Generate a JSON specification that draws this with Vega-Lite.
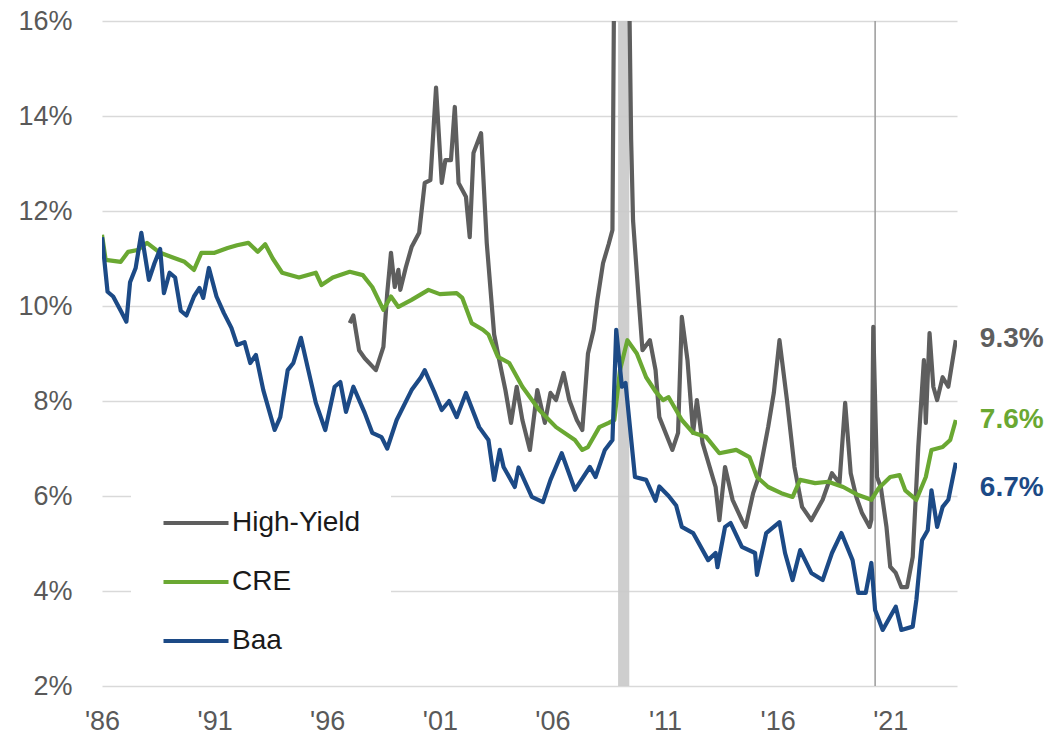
{
  "$schema": "https://vega.github.io/schema/vega-lite/v6.json",
  "width": 855,
  "height": 665,
  "autosize": {"type": "none"},
  "padding": {"left": 102, "top": 21, "right": 96, "bottom": 48},
  "background": "white",
  "config": {"view": {"stroke": null}, "font": "Liberation Sans"},
  "datasets": {
    "rec": [{"start": "2008-12-01", "end": "2009-06-01"}],
    "covid": [{"d": "2020-05-01"}],
    "ends": [
      {"series": "High-Yield", "d": "2023-12-01", "v": 9.3, "label": "9.3%"},
      {"series": "CRE", "d": "2023-12-01", "v": 7.6, "label": "7.6%"},
      {"series": "Baa", "d": "2023-12-01", "v": 6.7, "label": "6.7%"}
    ],
    "yields": [
      {"series": "High-Yield", "d": "1997-01-01", "v": 9.64},
      {"series": "High-Yield", "d": "1997-03-01", "v": 9.8},
      {"series": "High-Yield", "d": "1997-06-01", "v": 9.07},
      {"series": "High-Yield", "d": "1997-09-01", "v": 8.9},
      {"series": "High-Yield", "d": "1998-03-01", "v": 8.65},
      {"series": "High-Yield", "d": "1998-07-01", "v": 9.14},
      {"series": "High-Yield", "d": "1998-09-01", "v": 10.27},
      {"series": "High-Yield", "d": "1998-11-01", "v": 11.12},
      {"series": "High-Yield", "d": "1999-01-01", "v": 10.4},
      {"series": "High-Yield", "d": "1999-03-01", "v": 10.76},
      {"series": "High-Yield", "d": "1999-04-01", "v": 10.34},
      {"series": "High-Yield", "d": "1999-07-01", "v": 10.82},
      {"series": "High-Yield", "d": "1999-10-01", "v": 11.24},
      {"series": "High-Yield", "d": "2000-02-01", "v": 11.54},
      {"series": "High-Yield", "d": "2000-05-01", "v": 12.59},
      {"series": "High-Yield", "d": "2000-08-01", "v": 12.65},
      {"series": "High-Yield", "d": "2000-11-01", "v": 14.6},
      {"series": "High-Yield", "d": "2001-02-01", "v": 12.59},
      {"series": "High-Yield", "d": "2001-04-01", "v": 13.07},
      {"series": "High-Yield", "d": "2001-07-01", "v": 13.07},
      {"series": "High-Yield", "d": "2001-09-01", "v": 14.19},
      {"series": "High-Yield", "d": "2001-11-01", "v": 12.59},
      {"series": "High-Yield", "d": "2002-03-01", "v": 12.3},
      {"series": "High-Yield", "d": "2002-05-01", "v": 11.45},
      {"series": "High-Yield", "d": "2002-07-01", "v": 13.22},
      {"series": "High-Yield", "d": "2002-11-01", "v": 13.64},
      {"series": "High-Yield", "d": "2003-02-01", "v": 11.33},
      {"series": "High-Yield", "d": "2003-06-01", "v": 9.4},
      {"series": "High-Yield", "d": "2003-09-01", "v": 8.8},
      {"series": "High-Yield", "d": "2003-12-01", "v": 8.23},
      {"series": "High-Yield", "d": "2004-03-01", "v": 7.54},
      {"series": "High-Yield", "d": "2004-06-01", "v": 8.3},
      {"series": "High-Yield", "d": "2004-09-01", "v": 7.6},
      {"series": "High-Yield", "d": "2005-01-01", "v": 6.97},
      {"series": "High-Yield", "d": "2005-05-01", "v": 8.23},
      {"series": "High-Yield", "d": "2005-09-01", "v": 7.54},
      {"series": "High-Yield", "d": "2005-12-01", "v": 8.17},
      {"series": "High-Yield", "d": "2006-03-01", "v": 8.02},
      {"series": "High-Yield", "d": "2006-07-01", "v": 8.59},
      {"series": "High-Yield", "d": "2006-10-01", "v": 8.02},
      {"series": "High-Yield", "d": "2007-02-01", "v": 7.6},
      {"series": "High-Yield", "d": "2007-05-01", "v": 7.39},
      {"series": "High-Yield", "d": "2007-08-01", "v": 9.0},
      {"series": "High-Yield", "d": "2007-11-01", "v": 9.5},
      {"series": "High-Yield", "d": "2008-01-01", "v": 10.13},
      {"series": "High-Yield", "d": "2008-04-01", "v": 10.9},
      {"series": "High-Yield", "d": "2008-07-01", "v": 11.3},
      {"series": "High-Yield", "d": "2008-09-01", "v": 11.6},
      {"series": "High-Yield", "d": "2008-10-01", "v": 17.5},
      {"series": "High-Yield", "d": "2008-12-01", "v": 22.0},
      {"series": "High-Yield", "d": "2009-03-01", "v": 20.0},
      {"series": "High-Yield", "d": "2009-06-01", "v": 16.5},
      {"series": "High-Yield", "d": "2009-07-01", "v": 13.5},
      {"series": "High-Yield", "d": "2009-08-01", "v": 11.8},
      {"series": "High-Yield", "d": "2009-11-01", "v": 10.13},
      {"series": "High-Yield", "d": "2010-01-01", "v": 9.07},
      {"series": "High-Yield", "d": "2010-05-01", "v": 9.28},
      {"series": "High-Yield", "d": "2010-08-01", "v": 8.65},
      {"series": "High-Yield", "d": "2010-10-01", "v": 7.66},
      {"series": "High-Yield", "d": "2011-05-01", "v": 6.97},
      {"series": "High-Yield", "d": "2011-08-01", "v": 7.33},
      {"series": "High-Yield", "d": "2011-10-01", "v": 9.77},
      {"series": "High-Yield", "d": "2012-01-01", "v": 8.86},
      {"series": "High-Yield", "d": "2012-04-01", "v": 7.33},
      {"series": "High-Yield", "d": "2012-06-01", "v": 8.02},
      {"series": "High-Yield", "d": "2012-09-01", "v": 7.12},
      {"series": "High-Yield", "d": "2013-04-01", "v": 6.19},
      {"series": "High-Yield", "d": "2013-06-01", "v": 5.49},
      {"series": "High-Yield", "d": "2013-09-01", "v": 6.61},
      {"series": "High-Yield", "d": "2014-01-01", "v": 5.92},
      {"series": "High-Yield", "d": "2014-06-01", "v": 5.49},
      {"series": "High-Yield", "d": "2014-08-01", "v": 5.35},
      {"series": "High-Yield", "d": "2014-12-01", "v": 6.06},
      {"series": "High-Yield", "d": "2015-03-01", "v": 6.4},
      {"series": "High-Yield", "d": "2015-08-01", "v": 7.45},
      {"series": "High-Yield", "d": "2015-11-01", "v": 8.17},
      {"series": "High-Yield", "d": "2016-02-01", "v": 9.28},
      {"series": "High-Yield", "d": "2016-06-01", "v": 8.02},
      {"series": "High-Yield", "d": "2016-10-01", "v": 6.61},
      {"series": "High-Yield", "d": "2017-02-01", "v": 5.77},
      {"series": "High-Yield", "d": "2017-07-01", "v": 5.49},
      {"series": "High-Yield", "d": "2018-01-01", "v": 5.92},
      {"series": "High-Yield", "d": "2018-06-01", "v": 6.48},
      {"series": "High-Yield", "d": "2018-10-01", "v": 6.27},
      {"series": "High-Yield", "d": "2019-01-01", "v": 7.96},
      {"series": "High-Yield", "d": "2019-04-01", "v": 6.48},
      {"series": "High-Yield", "d": "2019-07-01", "v": 5.98},
      {"series": "High-Yield", "d": "2019-10-01", "v": 5.64},
      {"series": "High-Yield", "d": "2020-02-01", "v": 5.35},
      {"series": "High-Yield", "d": "2020-03-01", "v": 5.5},
      {"series": "High-Yield", "d": "2020-04-01", "v": 9.56},
      {"series": "High-Yield", "d": "2020-06-01", "v": 6.4},
      {"series": "High-Yield", "d": "2020-08-01", "v": 6.19},
      {"series": "High-Yield", "d": "2020-11-01", "v": 5.35},
      {"series": "High-Yield", "d": "2021-01-01", "v": 4.51},
      {"series": "High-Yield", "d": "2021-04-01", "v": 4.38},
      {"series": "High-Yield", "d": "2021-07-01", "v": 4.08},
      {"series": "High-Yield", "d": "2021-10-01", "v": 4.08},
      {"series": "High-Yield", "d": "2022-01-01", "v": 4.72},
      {"series": "High-Yield", "d": "2022-04-01", "v": 7.03},
      {"series": "High-Yield", "d": "2022-07-01", "v": 8.86},
      {"series": "High-Yield", "d": "2022-08-01", "v": 7.54},
      {"series": "High-Yield", "d": "2022-10-01", "v": 9.43},
      {"series": "High-Yield", "d": "2022-12-01", "v": 8.3},
      {"series": "High-Yield", "d": "2023-02-01", "v": 8.02},
      {"series": "High-Yield", "d": "2023-05-01", "v": 8.5},
      {"series": "High-Yield", "d": "2023-08-01", "v": 8.3},
      {"series": "High-Yield", "d": "2023-12-01", "v": 9.28},

      {"series": "CRE", "d": "1986-01-01", "v": 11.5},
      {"series": "CRE", "d": "1986-03-01", "v": 10.97},
      {"series": "CRE", "d": "1986-11-01", "v": 10.93},
      {"series": "CRE", "d": "1987-03-01", "v": 11.14},
      {"series": "CRE", "d": "1987-08-01", "v": 11.18},
      {"series": "CRE", "d": "1988-01-01", "v": 11.33},
      {"series": "CRE", "d": "1988-08-01", "v": 11.12},
      {"series": "CRE", "d": "1989-02-01", "v": 11.03},
      {"series": "CRE", "d": "1989-09-01", "v": 10.93},
      {"series": "CRE", "d": "1990-02-01", "v": 10.76},
      {"series": "CRE", "d": "1990-06-01", "v": 11.12},
      {"series": "CRE", "d": "1991-01-01", "v": 11.12},
      {"series": "CRE", "d": "1991-08-01", "v": 11.22},
      {"series": "CRE", "d": "1992-01-01", "v": 11.28},
      {"series": "CRE", "d": "1992-07-01", "v": 11.33},
      {"series": "CRE", "d": "1992-12-01", "v": 11.14},
      {"series": "CRE", "d": "1993-04-01", "v": 11.3},
      {"series": "CRE", "d": "1993-08-01", "v": 11.0},
      {"series": "CRE", "d": "1994-01-01", "v": 10.7},
      {"series": "CRE", "d": "1994-10-01", "v": 10.6},
      {"series": "CRE", "d": "1995-07-01", "v": 10.7},
      {"series": "CRE", "d": "1995-10-01", "v": 10.44},
      {"series": "CRE", "d": "1996-04-01", "v": 10.6},
      {"series": "CRE", "d": "1997-01-01", "v": 10.72},
      {"series": "CRE", "d": "1997-08-01", "v": 10.65},
      {"series": "CRE", "d": "1998-01-01", "v": 10.4},
      {"series": "CRE", "d": "1998-07-01", "v": 9.92},
      {"series": "CRE", "d": "1998-11-01", "v": 10.2},
      {"series": "CRE", "d": "1999-03-01", "v": 9.98},
      {"series": "CRE", "d": "1999-10-01", "v": 10.13},
      {"series": "CRE", "d": "2000-07-01", "v": 10.34},
      {"series": "CRE", "d": "2001-01-01", "v": 10.25},
      {"series": "CRE", "d": "2001-10-01", "v": 10.27},
      {"series": "CRE", "d": "2002-01-01", "v": 10.17},
      {"series": "CRE", "d": "2002-06-01", "v": 9.64},
      {"series": "CRE", "d": "2002-12-01", "v": 9.5},
      {"series": "CRE", "d": "2003-03-01", "v": 9.4},
      {"series": "CRE", "d": "2003-08-01", "v": 8.93},
      {"series": "CRE", "d": "2004-02-01", "v": 8.8},
      {"series": "CRE", "d": "2004-09-01", "v": 8.3},
      {"series": "CRE", "d": "2005-06-01", "v": 7.81},
      {"series": "CRE", "d": "2006-03-01", "v": 7.45},
      {"series": "CRE", "d": "2007-01-01", "v": 7.18},
      {"series": "CRE", "d": "2007-05-01", "v": 6.97},
      {"series": "CRE", "d": "2007-08-01", "v": 7.03},
      {"series": "CRE", "d": "2008-02-01", "v": 7.45},
      {"series": "CRE", "d": "2008-07-01", "v": 7.54},
      {"series": "CRE", "d": "2008-10-01", "v": 7.6},
      {"series": "CRE", "d": "2009-01-01", "v": 8.65},
      {"series": "CRE", "d": "2009-05-01", "v": 9.28},
      {"series": "CRE", "d": "2009-10-01", "v": 9.0},
      {"series": "CRE", "d": "2010-03-01", "v": 8.5},
      {"series": "CRE", "d": "2010-08-01", "v": 8.2},
      {"series": "CRE", "d": "2010-12-01", "v": 8.02},
      {"series": "CRE", "d": "2011-03-01", "v": 8.08},
      {"series": "CRE", "d": "2011-10-01", "v": 7.6},
      {"series": "CRE", "d": "2012-04-01", "v": 7.33},
      {"series": "CRE", "d": "2012-11-01", "v": 7.24},
      {"series": "CRE", "d": "2013-06-01", "v": 6.9},
      {"series": "CRE", "d": "2014-03-01", "v": 6.97},
      {"series": "CRE", "d": "2014-10-01", "v": 6.82},
      {"series": "CRE", "d": "2015-02-01", "v": 6.4},
      {"series": "CRE", "d": "2015-08-01", "v": 6.19},
      {"series": "CRE", "d": "2016-03-01", "v": 6.06},
      {"series": "CRE", "d": "2016-09-01", "v": 5.98},
      {"series": "CRE", "d": "2017-01-01", "v": 6.34},
      {"series": "CRE", "d": "2017-09-01", "v": 6.27},
      {"series": "CRE", "d": "2018-04-01", "v": 6.3},
      {"series": "CRE", "d": "2018-12-01", "v": 6.19},
      {"series": "CRE", "d": "2019-08-01", "v": 6.02},
      {"series": "CRE", "d": "2020-03-01", "v": 5.92},
      {"series": "CRE", "d": "2020-07-01", "v": 6.17},
      {"series": "CRE", "d": "2021-01-01", "v": 6.4},
      {"series": "CRE", "d": "2021-06-01", "v": 6.44},
      {"series": "CRE", "d": "2021-09-01", "v": 6.12},
      {"series": "CRE", "d": "2022-03-01", "v": 5.92},
      {"series": "CRE", "d": "2022-08-01", "v": 6.4},
      {"series": "CRE", "d": "2022-11-01", "v": 6.97},
      {"series": "CRE", "d": "2023-05-01", "v": 7.03},
      {"series": "CRE", "d": "2023-09-01", "v": 7.18},
      {"series": "CRE", "d": "2023-12-01", "v": 7.6},

      {"series": "Baa", "d": "1986-01-01", "v": 11.45},
      {"series": "Baa", "d": "1986-04-01", "v": 10.3},
      {"series": "Baa", "d": "1986-07-01", "v": 10.2},
      {"series": "Baa", "d": "1986-11-01", "v": 9.9},
      {"series": "Baa", "d": "1987-02-01", "v": 9.67},
      {"series": "Baa", "d": "1987-04-01", "v": 10.5},
      {"series": "Baa", "d": "1987-07-01", "v": 10.8},
      {"series": "Baa", "d": "1987-10-01", "v": 11.54},
      {"series": "Baa", "d": "1988-02-01", "v": 10.55},
      {"series": "Baa", "d": "1988-05-01", "v": 10.9},
      {"series": "Baa", "d": "1988-08-01", "v": 11.2},
      {"series": "Baa", "d": "1988-10-01", "v": 10.27},
      {"series": "Baa", "d": "1989-01-01", "v": 10.7},
      {"series": "Baa", "d": "1989-04-01", "v": 10.6},
      {"series": "Baa", "d": "1989-07-01", "v": 9.9},
      {"series": "Baa", "d": "1989-10-01", "v": 9.8},
      {"series": "Baa", "d": "1990-02-01", "v": 10.2},
      {"series": "Baa", "d": "1990-05-01", "v": 10.38},
      {"series": "Baa", "d": "1990-07-01", "v": 10.17},
      {"series": "Baa", "d": "1990-10-01", "v": 10.8},
      {"series": "Baa", "d": "1991-02-01", "v": 10.2},
      {"series": "Baa", "d": "1991-06-01", "v": 9.85},
      {"series": "Baa", "d": "1991-10-01", "v": 9.54},
      {"series": "Baa", "d": "1992-01-01", "v": 9.18},
      {"series": "Baa", "d": "1992-05-01", "v": 9.24},
      {"series": "Baa", "d": "1992-08-01", "v": 8.8},
      {"series": "Baa", "d": "1992-11-01", "v": 8.97},
      {"series": "Baa", "d": "1993-03-01", "v": 8.23},
      {"series": "Baa", "d": "1993-09-01", "v": 7.39},
      {"series": "Baa", "d": "1993-12-01", "v": 7.66},
      {"series": "Baa", "d": "1994-04-01", "v": 8.65},
      {"series": "Baa", "d": "1994-07-01", "v": 8.8},
      {"series": "Baa", "d": "1994-11-01", "v": 9.33},
      {"series": "Baa", "d": "1995-03-01", "v": 8.65},
      {"series": "Baa", "d": "1995-07-01", "v": 7.96},
      {"series": "Baa", "d": "1995-12-01", "v": 7.39},
      {"series": "Baa", "d": "1996-05-01", "v": 8.3},
      {"series": "Baa", "d": "1996-08-01", "v": 8.4},
      {"series": "Baa", "d": "1996-11-01", "v": 7.77},
      {"series": "Baa", "d": "1997-03-01", "v": 8.3},
      {"series": "Baa", "d": "1997-09-01", "v": 7.75},
      {"series": "Baa", "d": "1998-01-01", "v": 7.33},
      {"series": "Baa", "d": "1998-06-01", "v": 7.24},
      {"series": "Baa", "d": "1998-09-01", "v": 7.0},
      {"series": "Baa", "d": "1999-02-01", "v": 7.6},
      {"series": "Baa", "d": "1999-10-01", "v": 8.23},
      {"series": "Baa", "d": "2000-03-01", "v": 8.5},
      {"series": "Baa", "d": "2000-05-01", "v": 8.65},
      {"series": "Baa", "d": "2000-10-01", "v": 8.2},
      {"series": "Baa", "d": "2001-02-01", "v": 7.81},
      {"series": "Baa", "d": "2001-06-01", "v": 8.0},
      {"series": "Baa", "d": "2001-10-01", "v": 7.66},
      {"series": "Baa", "d": "2002-03-01", "v": 8.17},
      {"series": "Baa", "d": "2002-10-01", "v": 7.45},
      {"series": "Baa", "d": "2003-03-01", "v": 7.18},
      {"series": "Baa", "d": "2003-06-01", "v": 6.34},
      {"series": "Baa", "d": "2003-09-01", "v": 6.97},
      {"series": "Baa", "d": "2003-11-01", "v": 6.61},
      {"series": "Baa", "d": "2004-05-01", "v": 6.19},
      {"series": "Baa", "d": "2004-07-01", "v": 6.6},
      {"series": "Baa", "d": "2005-02-01", "v": 5.98},
      {"series": "Baa", "d": "2005-08-01", "v": 5.87},
      {"series": "Baa", "d": "2005-12-01", "v": 6.34},
      {"series": "Baa", "d": "2006-06-01", "v": 6.9},
      {"series": "Baa", "d": "2007-01-01", "v": 6.13},
      {"series": "Baa", "d": "2007-09-01", "v": 6.61},
      {"series": "Baa", "d": "2007-12-01", "v": 6.4},
      {"series": "Baa", "d": "2008-05-01", "v": 6.97},
      {"series": "Baa", "d": "2008-09-01", "v": 7.18},
      {"series": "Baa", "d": "2008-11-01", "v": 9.5},
      {"series": "Baa", "d": "2009-02-01", "v": 8.3},
      {"series": "Baa", "d": "2009-04-01", "v": 8.38},
      {"series": "Baa", "d": "2009-09-01", "v": 6.4},
      {"series": "Baa", "d": "2010-03-01", "v": 6.34},
      {"series": "Baa", "d": "2010-08-01", "v": 5.9},
      {"series": "Baa", "d": "2010-10-01", "v": 6.2},
      {"series": "Baa", "d": "2011-03-01", "v": 6.0},
      {"series": "Baa", "d": "2011-07-01", "v": 5.8},
      {"series": "Baa", "d": "2011-10-01", "v": 5.35},
      {"series": "Baa", "d": "2012-04-01", "v": 5.22},
      {"series": "Baa", "d": "2012-12-01", "v": 4.65},
      {"series": "Baa", "d": "2013-04-01", "v": 4.8},
      {"series": "Baa", "d": "2013-05-01", "v": 4.5},
      {"series": "Baa", "d": "2013-09-01", "v": 5.35},
      {"series": "Baa", "d": "2013-12-01", "v": 5.43},
      {"series": "Baa", "d": "2014-06-01", "v": 4.93},
      {"series": "Baa", "d": "2015-01-01", "v": 4.8},
      {"series": "Baa", "d": "2015-02-01", "v": 4.34},
      {"series": "Baa", "d": "2015-07-01", "v": 5.22},
      {"series": "Baa", "d": "2016-02-01", "v": 5.45},
      {"series": "Baa", "d": "2016-05-01", "v": 4.8},
      {"series": "Baa", "d": "2016-09-01", "v": 4.23},
      {"series": "Baa", "d": "2017-01-01", "v": 4.86},
      {"series": "Baa", "d": "2017-07-01", "v": 4.38},
      {"series": "Baa", "d": "2018-01-01", "v": 4.23},
      {"series": "Baa", "d": "2018-06-01", "v": 4.8},
      {"series": "Baa", "d": "2018-11-01", "v": 5.22},
      {"series": "Baa", "d": "2019-05-01", "v": 4.65},
      {"series": "Baa", "d": "2019-08-01", "v": 3.96},
      {"series": "Baa", "d": "2019-12-01", "v": 3.96},
      {"series": "Baa", "d": "2020-03-01", "v": 4.59},
      {"series": "Baa", "d": "2020-05-01", "v": 3.6},
      {"series": "Baa", "d": "2020-09-01", "v": 3.18},
      {"series": "Baa", "d": "2020-12-01", "v": 3.39},
      {"series": "Baa", "d": "2021-04-01", "v": 3.67},
      {"series": "Baa", "d": "2021-07-01", "v": 3.18},
      {"series": "Baa", "d": "2022-01-01", "v": 3.25},
      {"series": "Baa", "d": "2022-03-01", "v": 3.81},
      {"series": "Baa", "d": "2022-06-01", "v": 5.07},
      {"series": "Baa", "d": "2022-09-01", "v": 5.28},
      {"series": "Baa", "d": "2022-11-01", "v": 6.12},
      {"series": "Baa", "d": "2023-02-01", "v": 5.35},
      {"series": "Baa", "d": "2023-05-01", "v": 5.77},
      {"series": "Baa", "d": "2023-08-01", "v": 5.92},
      {"series": "Baa", "d": "2023-12-01", "v": 6.7}
    ]
  },
  "layer": [
    {
      "data": {"name": "rec"},
      "mark": {"type": "rect", "color": "#c9c9c9", "opacity": 0.9},
      "encoding": {
        "x": {"field": "start", "type": "temporal", "title": null, "scale": {"type": "utc", "domain": [{"year": 1986, "month": 1, "date": 1, "utc": true}, {"year": 2023, "month": 12, "date": 20, "utc": true}]}},
        "x2": {"field": "end"},
        "y": {"datum": 2, "type": "quantitative", "title": null, "scale": {"domain": [2, 16], "zero": false}},
        "y2": {"datum": 16}
      }
    },
    {
      "data": {"name": "covid"},
      "mark": {"type": "rule", "color": "#9a9a9a", "strokeWidth": 1.5},
      "encoding": {
        "x": {"field": "d", "type": "temporal", "title": null, "scale": {"type": "utc", "domain": [{"year": 1986, "month": 1, "date": 1, "utc": true}, {"year": 2023, "month": 12, "date": 20, "utc": true}]}}
      }
    },
    {
      "data": {"name": "yields"},
      "mark": {"type": "line", "clip": true, "strokeJoin": "round"},
      "encoding": {
        "x": {
          "field": "d", "type": "temporal",
          "scale": {"type": "utc", "domain": [{"year": 1986, "month": 1, "date": 1, "utc": true}, {"year": 2023, "month": 12, "date": 20, "utc": true}]},
          "axis": {
            "title": null,
            "values": [{"year": 1986, "utc": true}, {"year": 1991, "utc": true}, {"year": 1996, "utc": true}, {"year": 2001, "utc": true}, {"year": 2006, "utc": true}, {"year": 2011, "utc": true}, {"year": 2016, "utc": true}, {"year": 2021, "utc": true}],
            "labelExpr": "\"'\" + utcFormat(datum.value, '%y')",
            "labelFontSize": 27, "labelColor": "#595959", "labelPadding": 22,
            "ticks": false, "tickSize": 0, "domain": false, "grid": false, "labelFlush": false
          }
        },
        "y": {
          "field": "v", "type": "quantitative",
          "scale": {"domain": [2, 16], "zero": false},
          "axis": {
            "title": null, "values": [2, 4, 6, 8, 10, 12, 14, 16],
            "labelExpr": "datum.value + '%'",
            "labelFontSize": 27, "labelColor": "#595959", "labelPadding": 30,
            "ticks": false, "tickSize": 0, "domain": false,
            "grid": true, "gridColor": "#d9d9d9", "gridWidth": 1.5
          }
        },
        "strokeWidth": {
          "field": "series", "type": "nominal",
          "scale": {"domain": ["High-Yield", "CRE", "Baa"], "range": [4.2, 4.2, 5]},
          "legend": null
        },
        "color": {
          "field": "series", "type": "nominal",
          "scale": {"domain": ["High-Yield", "CRE", "Baa"], "range": ["#5e5e5e", "#6aa832", "#1c4a86"]},
          "legend": {
            "title": null, "orient": "none", "legendX": 29, "legendY": 437,
            "symbolType": "stroke", "symbolSize": 4225, "symbolStrokeWidth": 4.5,
            "labelFontSize": 28, "labelColor": "#1a1a1a", "labelOffset": 1,
            "rowPadding": 10, "padding": 30, "fillColor": "white", "strokeColor": null
          }
        }
      }
    },
    {
      "data": {"name": "ends"},
      "transform": [{"filter": "datum.series != 'Baa'"}],
      "mark": {"type": "text", "align": "left", "baseline": "middle", "dx": 24, "fontSize": 28, "fontWeight": "bold"},
      "encoding": {
        "x": {"field": "d", "type": "temporal", "title": null, "scale": {"type": "utc", "domain": [{"year": 1986, "month": 1, "date": 1, "utc": true}, {"year": 2023, "month": 12, "date": 20, "utc": true}]}},
        "y": {"field": "v", "type": "quantitative", "title": null, "scale": {"domain": [2, 16], "zero": false}},
        "text": {"field": "label"},
        "color": {"field": "series", "type": "nominal", "legend": null}
      }
    },
    {
      "data": {"name": "ends"},
      "transform": [{"filter": "datum.series == 'Baa'"}],
      "mark": {"type": "text", "align": "left", "baseline": "middle", "dx": 24, "dy": 25, "fontSize": 28, "fontWeight": "bold"},
      "encoding": {
        "x": {"field": "d", "type": "temporal", "title": null, "scale": {"type": "utc", "domain": [{"year": 1986, "month": 1, "date": 1, "utc": true}, {"year": 2023, "month": 12, "date": 20, "utc": true}]}},
        "y": {"field": "v", "type": "quantitative", "title": null, "scale": {"domain": [2, 16], "zero": false}},
        "text": {"field": "label"},
        "color": {"field": "series", "type": "nominal", "legend": null}
      }
    }
  ]
}
